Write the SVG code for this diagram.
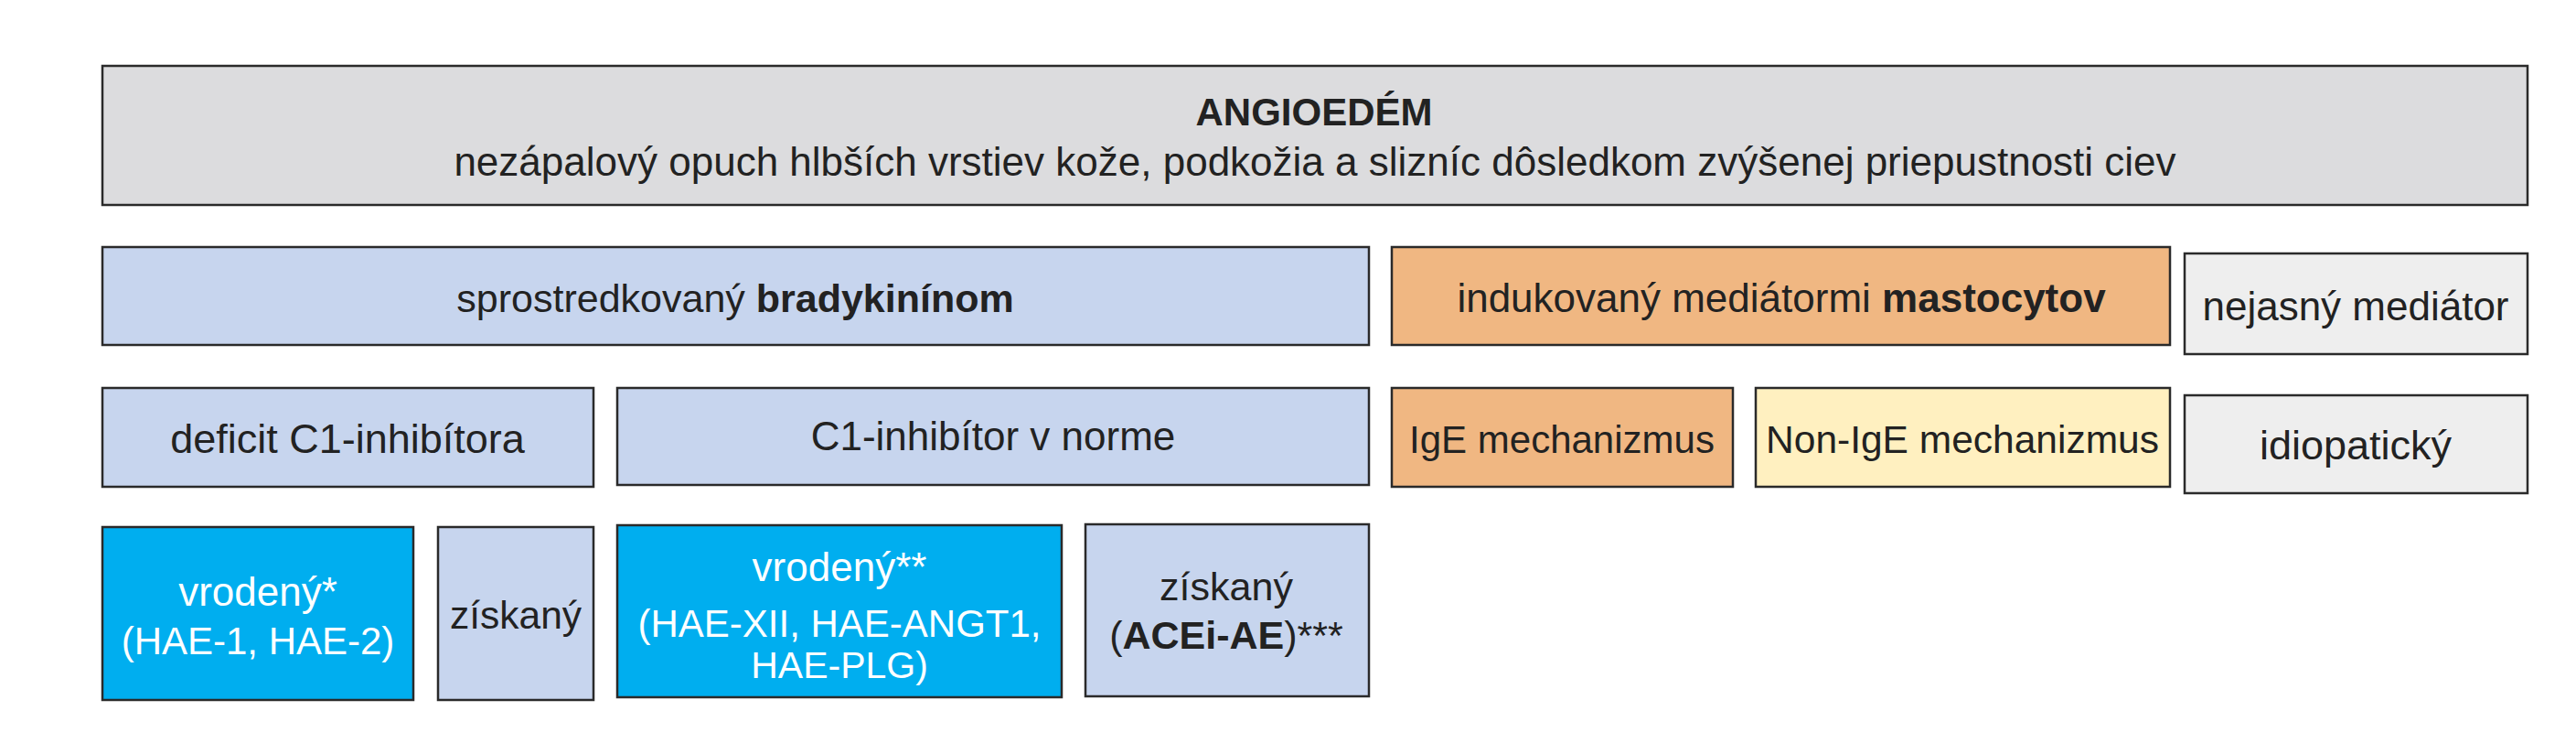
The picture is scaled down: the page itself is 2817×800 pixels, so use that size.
<svg xmlns="http://www.w3.org/2000/svg" width="2817" height="800" viewBox="0 0 2817 800">
<style>
rect.box{stroke:#2a2a2a;stroke-width:2.5}
.gray{fill:#dcdcde}
.blue{fill:#c7d5ee}
.orange{fill:#f0b782}
.yellow{fill:#fff0c0}
.light{fill:#eeeeee}
.cyan{fill:#00aeef}
text{font-family:"Liberation Sans",Arial,sans-serif;fill:#222;text-anchor:middle;font-size:44px}
text.w{fill:#ffffff}
.b{font-weight:bold}
</style>
<rect width="2817" height="800" fill="#ffffff"/>
<g id="connectors"></g>
<g id="angioedem">
<rect class="box gray" x="112" y="72" width="2652" height="152"/>
<text x="1437" y="137" class="b" style="font-size:42px">ANGIOEDÉM</text>
<text x="1438" y="192">nezápalový opuch hlbších vrstiev kože, podkožia a slizníc dôsledkom zvýšenej priepustnosti ciev</text>
</g>
<g id="bradykinin">
<rect class="box blue" x="112" y="270" width="1385" height="107"/>
<text x="804" y="341" style="font-size:43px">sprostredkovaný <tspan class="b">bradykinínom</tspan></text>
</g>
<g id="mastocyty">
<rect class="box orange" x="1522" y="270" width="851" height="107"/>
<text x="1948" y="341">indukovaný mediátormi <tspan class="b">mastocytov</tspan></text>
</g>
<g id="nejasny">
<rect class="box light" x="2389" y="277" width="375" height="110"/>
<text x="2576" y="350">nejasný mediátor</text>
</g>
<g id="deficit">
<rect class="box blue" x="112" y="424" width="537" height="108"/>
<text x="380" y="495" style="font-size:45px">deficit C1-inhibítora</text>
</g>
<g id="norma">
<rect class="box blue" x="675" y="424" width="822" height="106"/>
<text x="1086" y="492">C1-inhibítor v norme</text>
</g>
<g id="ige">
<rect class="box orange" x="1522" y="424" width="373" height="108"/>
<text x="1708" y="495" style="font-size:42px">IgE mechanizmus</text>
</g>
<g id="nonige">
<rect class="box yellow" x="1920" y="424" width="453" height="108"/>
<text x="2146" y="495" style="font-size:42.5px">Non-IgE mechanizmus</text>
</g>
<g id="idiopaticky">
<rect class="box light" x="2389" y="432" width="375" height="107"/>
<text x="2576" y="502" style="font-size:45px">idiopatický</text>
</g>
<g id="vrodeny1">
<rect class="box cyan" x="112" y="576" width="340" height="189"/>
<text class="w" x="282" y="662">vrodený*</text>
<text class="w" x="282" y="715" style="font-size:42px">(HAE-1, HAE-2)</text>
</g>
<g id="ziskany1">
<rect class="box blue" x="479" y="576" width="170" height="189"/>
<text x="564" y="687" style="font-size:42.5px">získaný</text>
</g>
<g id="vrodeny2">
<rect class="box cyan" x="675" y="574" width="486" height="188"/>
<text class="w" x="918" y="635">vrodený**</text>
<text class="w" x="918" y="696" style="font-size:42px">(HAE-XII, HAE-ANGT1,</text>
<text class="w" x="918" y="741" style="font-size:41px">HAE-PLG)</text>
</g>
<g id="ziskany2">
<rect class="box blue" x="1187" y="573" width="310" height="188"/>
<text x="1341" y="656" style="font-size:43px">získaný</text>
<text x="1341" y="709" style="font-size:43px">(<tspan class="b">ACEi-AE</tspan>)***</text>
</g>
</svg>
